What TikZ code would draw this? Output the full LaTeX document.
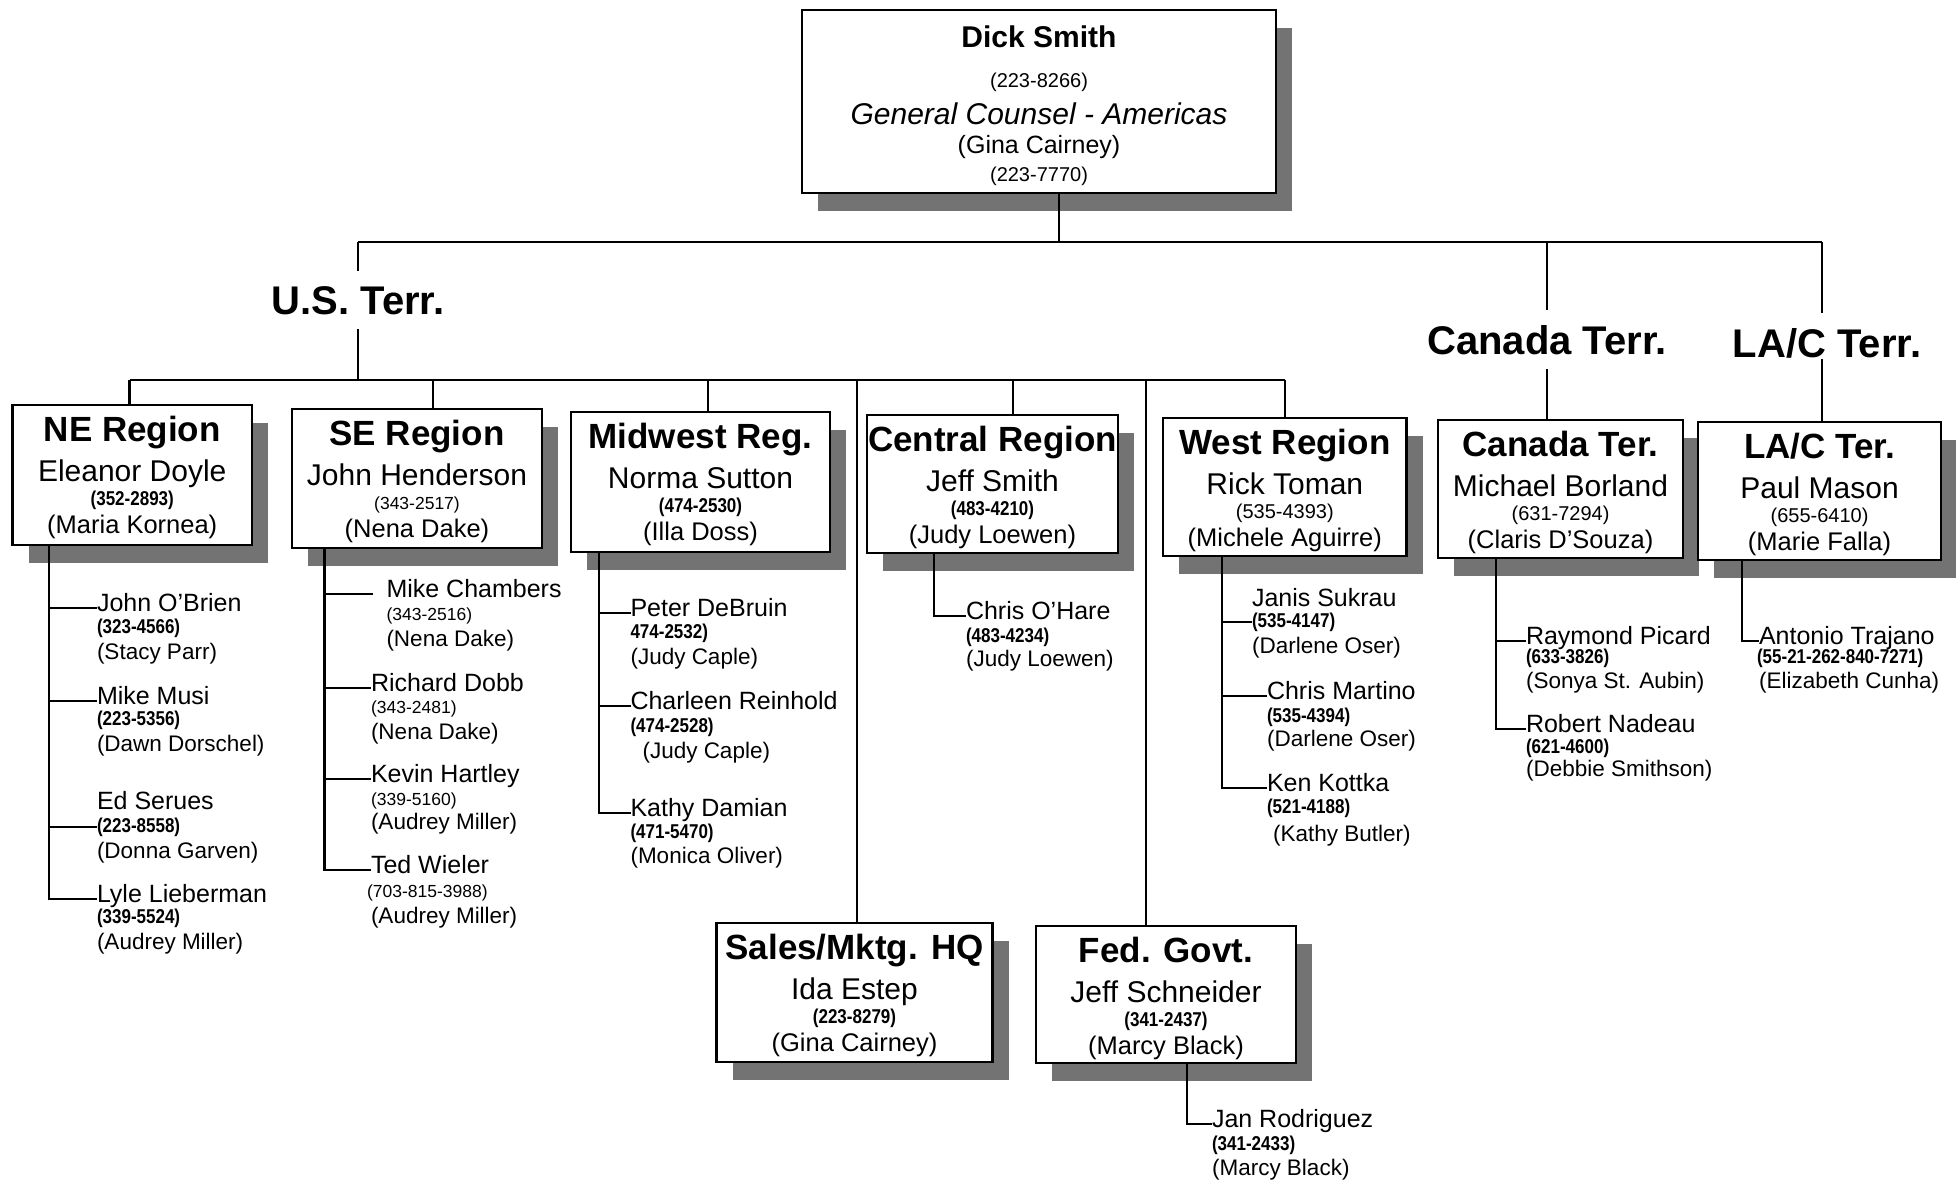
\documentclass[tikz,border=0pt]{standalone}
\usepackage{fontspec}
\setmainfont{Liberation Sans}
\newfontfamily\condfont{Liberation Sans}[FakeStretch=0.85]
\usetikzlibrary{shadows}

% regular-weight phone numbers, used in a few boxes and lists
\newcommand\bigphone{\normalfont\fontsize{20}{24}\selectfont}
\newcommand\plainphone{\normalfont\fontsize{17.5}{20}\selectfont}

% a boxed unit: id, centre x, top y, width, height, title, head, phone, assistant
\newcommand\orgbox[9]{%
  \node[regbox, minimum width=#4pt, minimum height=#5pt, anchor=north] (#1) at (#2,#3) {};
  \node[titletext] (#1-title) at (#2,#3+36.5) {#6};
  \node[nametext]  (#1-name)  at (#2,#3+76)   {#7};
  \node[phonetext] (#1-phone) at (#2,#3+100)  {#8};
  \node[assttext]  (#1-asst)  at (#2,#3+128.5){#9};
}

% a listed staff member: id, left x, name baseline, name, phone baseline, phone, assistant baseline, assistant
\newcommand\staff[8]{%
  \node[subname]  (#1)    at (#2,#3) {#4};
  \node[subphone] (#1-ph) at (#2,#5) {#6};
  \node[subasst]  (#1-as) at (#2,#7) {#8};
  \coordinate (#1-t) at ([yshift=3pt]#1.base west);
}

\begin{document}
\begin{tikzpicture}[x=1pt, y=-1pt,
  link/.style={line width=2.6pt},
  regbox/.style={draw, line width=2.8pt, fill=white, inner sep=0pt, outer sep=0pt,
    drop shadow={shadow xshift=16pt, shadow yshift=-18pt, fill=black!55, opacity=1}},
  txt/.style={inner sep=0pt, outer sep=0pt},
  titletext/.style={txt, anchor=base, font=\bfseries\fontsize{35}{40}\selectfont},
  nametext/.style={txt, anchor=base, font=\fontsize{30}{34}\selectfont},
  phonetext/.style={txt, anchor=base, font=\condfont\bfseries\fontsize{20}{24}\selectfont},
  assttext/.style={txt, anchor=base, font=\fontsize{25.5}{29}\selectfont},
  terrtext/.style={anchor=base, inner xsep=0pt, inner ysep=15pt, outer sep=0pt,
    font=\bfseries\fontsize{40}{46}\selectfont},
  subname/.style={txt, anchor=base west, font=\fontsize{25}{29}\selectfont},
  subphone/.style={txt, anchor=base west, font=\condfont\bfseries\fontsize{20}{24}\selectfont},
  subasst/.style={txt, anchor=base west, font=\fontsize{22.5}{26}\selectfont},
]
\useasboundingbox (0,0) rectangle (1956,1181);
\fill[white] (0,0) rectangle (1956,1181);

% ---------- head of the organisation ----------
\node[regbox, minimum width=474pt, minimum height=183pt, anchor=north] (gc) at (1039,10) {};
\node[txt, anchor=base, font=\bfseries\fontsize{30}{34}\selectfont] (gc-name) at (1039,47) {Dick Smith};
\node[txt, anchor=base, font=\fontsize{20}{24}\selectfont] (gc-phone) at (1039,87) {(223-8266)};
\node[txt, anchor=base, font=\itshape\fontsize{30}{34}\selectfont] (gc-title) at (1039,124) {General Counsel - Americas};
\node[txt, anchor=base, font=\fontsize{25}{29}\selectfont] (gc-asst) at (1039,153) {(Gina Cairney)};
\node[txt, anchor=base, font=\fontsize{20}{24}\selectfont] (gc-phone2) at (1039,181) {(223-7770)};

% ---------- territory headings ----------
\node[terrtext] (us) at (358,314) {U.S. Terr.};
\node[terrtext] (ca) at (1547,354) {Canada Terr.};
\node[terrtext] (la) at (1827,357) {LA/C Terr.};

% ---------- regional boxes ----------
\orgbox{ne}{132.25}{405}{239.5}{140}{NE Region}{Eleanor Doyle}{(352-2893)}{(Maria Kornea)}
\orgbox{se}{417}{409}{250}{139}{SE Region}{John Henderson}{\plainphone(343-2517)}{(Nena Dake)}
\orgbox{mw}{700.5}{412}{259}{140}{Midwest Reg.}{Norma Sutton}{(474-2530)}{(Illa Doss)}
\orgbox{ce}{992.5}{415}{251}{138}{Central Region}{Jeff Smith}{(483-4210)}{(Judy Loewen)}
\orgbox{we}{1284.8}{418}{243.6}{138}{West Region}{Rick Toman}{\bigphone(535-4393)}{(Michele Aguirre)}
\orgbox{cn}{1560.5}{420}{245}{138}{Canada Ter.}{Michael Borland}{\bigphone(631-7294)}{(Claris D'Souza)}
\orgbox{lc}{1819.5}{422}{243}{138}{LA/C Ter.}{Paul Mason}{\bigphone(655-6410)}{(Marie Falla)}
\orgbox{hq}{854.5}{923}{276}{139}{Sales/Mktg. HQ}{Ida Estep}{(223-8279)}{(Gina Cairney)}
\orgbox{fg}{1166}{926}{260}{137}{Fed. Govt.}{Jeff Schneider}{(341-2437)}{(Marcy Black)}

% ---------- upper connectors ----------
\coordinate (bus1-us) at (358,242);
\coordinate (bus1-gc) at (1059,242);
\coordinate (bus1-cn) at (1547,242);
\coordinate (bus1-lc) at (1822,242);
\draw[link] (bus1-us) -- (bus1-lc);
\draw[link] (bus1-gc |- gc.south) -- (bus1-gc);
\draw[link] (bus1-us) -- (us.north);
\draw[link] (bus1-cn) -- (ca.north);
\draw[link] (bus1-lc) -- (bus1-lc |- la.north);
\draw[link] (ca.south) -- (ca.south |- cn.north);
\coordinate (la-low) at ([yshift=14pt]la.south);
\draw[link] (bus1-lc |- la-low) -- (bus1-lc |- lc.north);

\coordinate (bus2-ne) at (129.5,380);
\coordinate (bus2-se) at (433,380);
\coordinate (bus2-mw) at (708,380);
\coordinate (bus2-hq) at (857,380);
\coordinate (bus2-ce) at (1013,380);
\coordinate (bus2-fg) at (1146,380);
\coordinate (bus2-we) at (1285,380);
\draw[link] (bus2-ne) -- (bus2-we);
\draw[link] (us.south) -- (us.south |- bus2-ne);
\foreach \b in {ne,se,mw,hq,ce,fg,we}
  \draw[link] (bus2-\b) -- (bus2-\b |- \b.north);

% ---------- NE Region staff ----------
\staff{jo}{97}{611}{John O'Brien}{633}{(323-4566)}{659}{(Stacy Parr)}
\staff{mm}{97}{704}{Mike Musi}{725}{(223-5356)}{751}{(Dawn Dorschel)}
\staff{es}{97}{809}{Ed Serues}{832}{(223-8558)}{858}{(Donna Garven)}
\staff{ll}{97}{902}{Lyle Lieberman}{923}{(339-5524)}{949}{(Audrey Miller)}
\coordinate (ne-v) at (49,0 |- ne.south);
\draw[link] (ne-v) |- (ll-t);
\draw[link] (ne-v |- jo-t) -- (jo-t);
\draw[link] (ne-v |- mm-t) -- (mm-t);
\draw[link] (ne-v |- es-ph.west) -- (es-ph.west);

% ---------- SE Region staff ----------
\staff{mc}{386.5}{597}{Mike Chambers}{620}{\plainphone(343-2516)}{646}{(Nena Dake)}
\staff{rd}{371}{691}{Richard Dobb}{713}{\plainphone(343-2481)}{739}{(Nena Dake)}
\staff{kh}{371}{782}{Kevin Hartley}{805}{\plainphone(339-5160)}{829}{(Audrey Miller)}
\staff{tw}{371}{873}{Ted Wieler}{897}{\plainphone\hspace*{-4pt}(703-815-3988)}{923}{(Audrey Miller)}
\coordinate (se-v) at (324.5,0 |- se.south);
\draw[link] (se-v) |- (tw-t);
\draw[link] (se-v |- mc-t) -- ([xshift=-13.5pt]mc-t);
\draw[link] (se-v |- rd-t) -- (rd-t);
\draw[link] (se-v |- kh-t) -- (kh-t);

% ---------- Midwest staff ----------
\staff{pd}{630.5}{616}{Peter DeBruin}{638}{474-2532)}{664}{(Judy Caple)}
\staff{cr}{630.5}{709}{Charleen Reinhold}{732}{(474-2528)}{758}{\hspace*{12pt}(Judy Caple)}
\staff{kd}{630.5}{816}{Kathy Damian}{838}{(471-5470)}{863}{(Monica Oliver)}
\coordinate (mw-v) at (599,0 |- mw.south);
\draw[link] (mw-v) |- (kd-t);
\draw[link] (mw-v |- pd-t) -- (pd-t);
\draw[link] (mw-v |- cr-t) -- (cr-t);

% ---------- Central staff ----------
\staff{co}{966}{619}{Chris O'Hare}{642}{(483-4234)}{666}{(Judy Loewen)}
\coordinate (ce-v) at (934,0 |- ce.south);
\draw[link] (ce-v) |- (co-t);

% ---------- West staff ----------
\staff{js}{1252}{606}{Janis Sukrau}{627}{(535-4147)}{653}{(Darlene Oser)}
\staff{cm}{1267}{699}{Chris Martino}{722}{(535-4394)}{746}{(Darlene Oser)}
\staff{kk}{1267}{791}{Ken Kottka}{813}{(521-4188)}{841}{\hspace*{6pt}(Kathy Butler)}
\coordinate (we-v) at (1222,0 |- we.south);
\draw[link] (we-v) |- (kk-t);
\draw[link] (we-v |- js-ph.west) -- (js-ph.west);
\draw[link] (we-v |- cm-t) -- (cm-t);

% ---------- Canada staff ----------
\staff{rp}{1526}{644}{Raymond Picard}{663}{(633-3826)}{688}{(Sonya St. Aubin)}
\staff{rn}{1526}{732}{Robert Nadeau}{753}{(621-4600)}{776}{(Debbie Smithson)}
\coordinate (cn-v) at (1496,0 |- cn.south);
\draw[link] (cn-v) |- (rn-t);
\draw[link] (cn-v |- rp-t) -- (rp-t);

% ---------- LA/C staff ----------
\staff{at}{1759}{644}{Antonio Trajano}{663}{\hspace*{-2pt}(55-21-262-840-7271)}{688}{(Elizabeth Cunha)}
\coordinate (lc-v) at (1742,0 |- lc.south);
\draw[link] (lc-v) |- (at-t);

% ---------- Federal Government staff ----------
\staff{jr}{1212}{1127}{Jan Rodriguez}{1150}{(341-2433)}{1175}{(Marcy Black)}
\coordinate (fg-v) at (1187,0 |- fg.south);
\draw[link] (fg-v) |- (jr-t);

\end{tikzpicture}
\end{document}
